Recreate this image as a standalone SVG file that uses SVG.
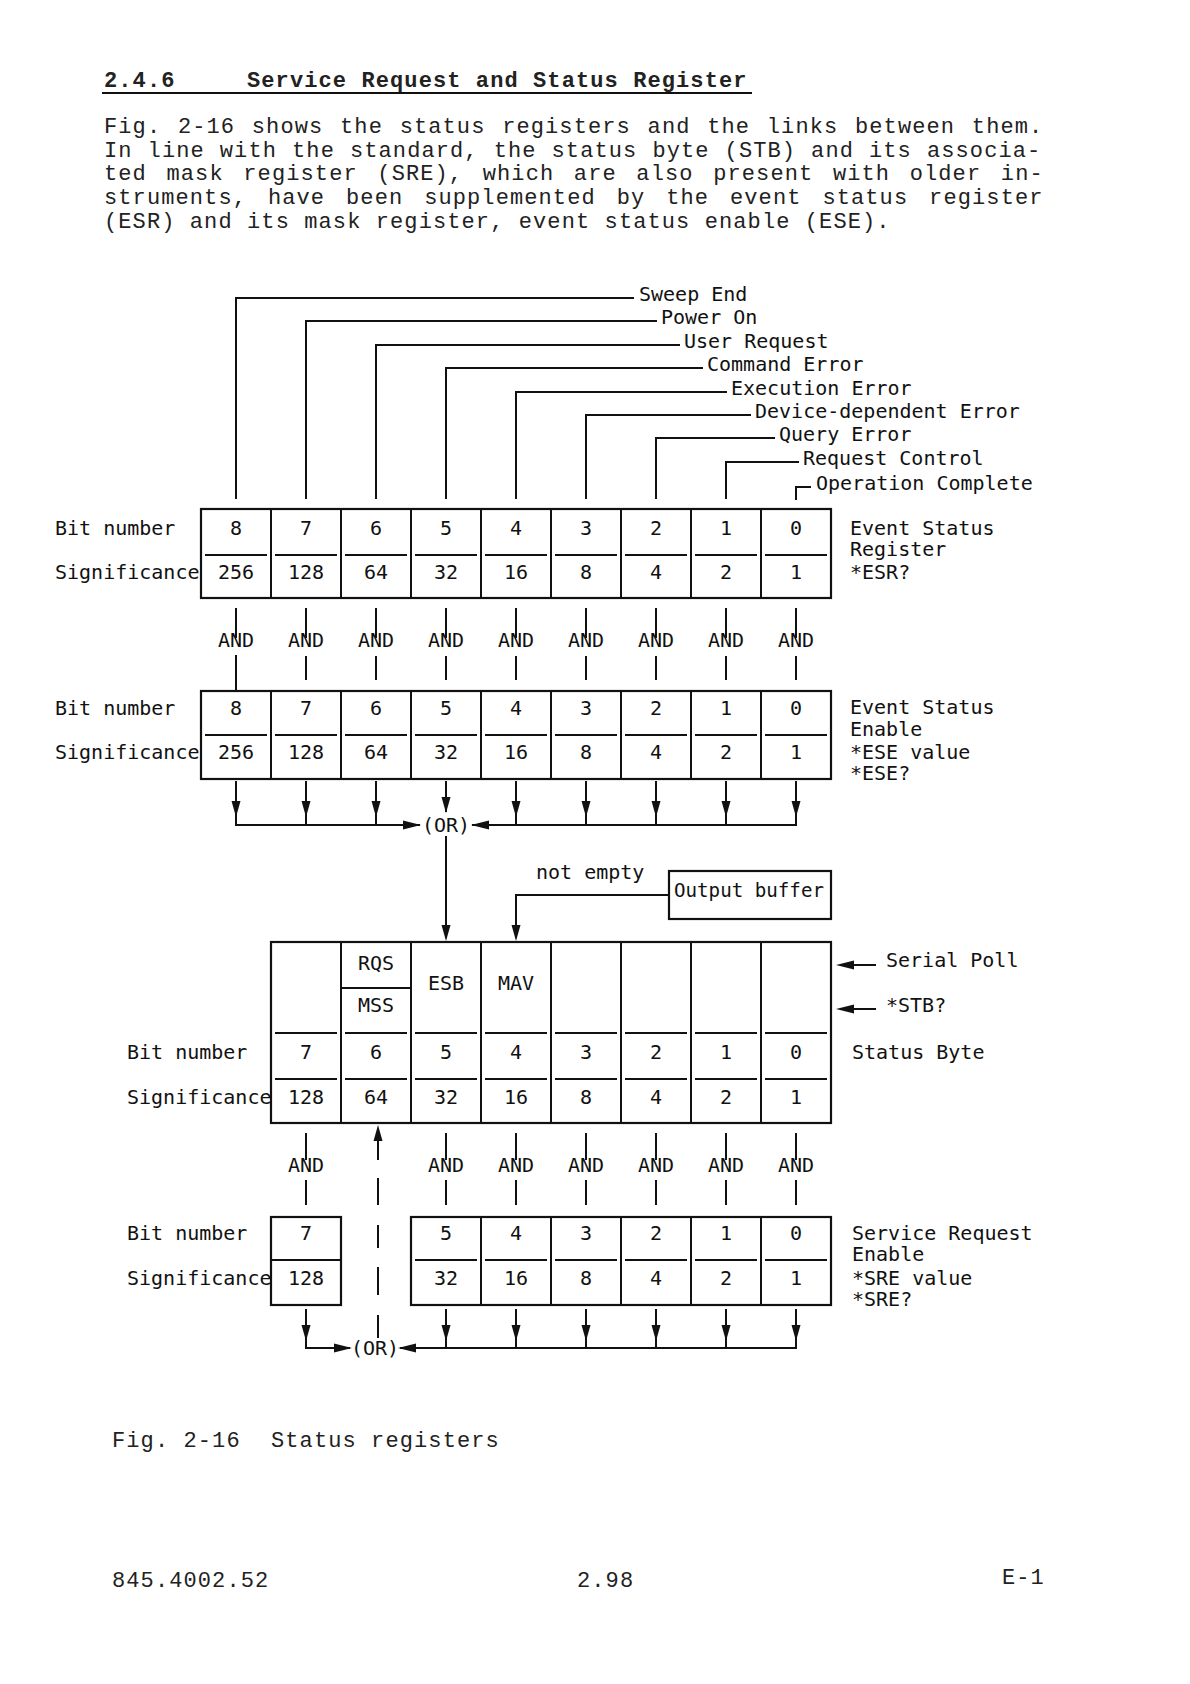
<svg xmlns="http://www.w3.org/2000/svg" xmlns:xlink="http://www.w3.org/1999/xlink" width="1190" height="1684" viewBox="0 0 1190 1684">
<style>
.ln{stroke:#111;stroke-width:2;fill:none}
.bx{stroke:#111;stroke-width:2.2;fill:none}
.ah{fill:#111;stroke:none}
.t{font-family:"DejaVu Sans Mono","Liberation Mono",monospace;font-size:20px;fill:#111}
.c{text-anchor:middle}
.p{font-family:"Liberation Mono",monospace;font-size:22px;letter-spacing:1.1px;fill:#222}
.h{font-family:"Liberation Mono",monospace;font-size:22px;letter-spacing:1.1px;font-weight:bold;fill:#222}
</style>
<defs>
<path id="ahD" class="ah" d="M0,0 L-4.5,-16 L4.5,-16 Z"/>
<path id="ahU" class="ah" d="M0,0 L-4.5,16 L4.5,16 Z"/>
<path id="ahR" class="ah" d="M0,0 L-18,-4.5 L-18,4.5 Z"/>
<path id="ahL" class="ah" d="M0,0 L18,-4.5 L18,4.5 Z"/>
</defs>
<rect x="0" y="0" width="1190" height="1684" fill="#fff"/>

<g id="heading">
<text class="h" x="104" y="87">2.4.6</text>
<text class="h" x="247" y="87">Service Request and Status Register</text>
<line class="ln" x1="102" y1="93" x2="752" y2="93" stroke-width="2.5"/>
<text class="p" x="104" y="133" word-spacing="2.4">Fig. 2-16 shows the status registers and the links between them.</text>
<text class="p" x="104" y="157" word-spacing="0.7">In line with the standard, the status byte (STB) and its associa-</text>
<text class="p" x="104" y="180" word-spacing="5.3">ted mask register (SRE), which are also present with older in-</text>
<text class="p" x="104" y="204" word-spacing="6.6">struments, have been supplemented by the event status register</text>
<text class="p" x="104" y="228">(ESR) and its mask register, event status enable (ESE).</text>
</g>

<g id="connectors">
<!-- event sources into ESR -->
<path class="ln" d="M236,499V298H634M306,499V321H657M376,499V345H680M446,499V368H703M516,499V392H727M586,499V415H751M656,499V438H775M726,499V462H799M796,500V487H811"/>
<!-- ESR AND ESE -->
<path class="ln" d="M236,608V638M306,608V638M376,608V638M446,608V638M516,608V638M586,608V638M656,608V638M726,608V638M796,608V638"/>
<path class="ln" d="M236,655V691M306,656V680M376,656V680M446,656V680M516,656V680M586,656V680M656,656V680M726,656V680M796,656V680"/>
<!-- ESE to OR -->
<path class="ln" d="M236,781V825H420M796,781V825H472M306,781V825M376,781V825M516,781V825M586,781V825M656,781V825M726,781V825M446,781V812"/>
<use xlink:href="#ahD" x="236" y="817"/>
<use xlink:href="#ahD" x="306" y="817"/>
<use xlink:href="#ahD" x="376" y="817"/>
<use xlink:href="#ahD" x="446" y="813"/>
<use xlink:href="#ahD" x="516" y="817"/>
<use xlink:href="#ahD" x="586" y="817"/>
<use xlink:href="#ahD" x="656" y="817"/>
<use xlink:href="#ahD" x="726" y="817"/>
<use xlink:href="#ahD" x="796" y="817"/>
<use xlink:href="#ahR" x="421" y="825"/>
<use xlink:href="#ahL" x="471" y="825"/>
<!-- OR to ESB -->
<path class="ln" d="M446,836V938"/>
<use xlink:href="#ahD" x="446" y="941"/>
<!-- output buffer to MAV -->
<path class="ln" d="M669,895H516V938"/>
<use xlink:href="#ahD" x="516" y="941"/>
<!-- serial poll / STB? -->
<path class="ln" d="M876,965H850M876,1009H850"/>
<use xlink:href="#ahL" x="836" y="965"/>
<use xlink:href="#ahL" x="836" y="1009"/>
<!-- STB AND SRE -->
<path class="ln" d="M306,1133V1160M446,1133V1160M516,1133V1160M586,1133V1160M656,1133V1160M726,1133V1160M796,1133V1160"/>
<path class="ln" d="M306,1180V1205M446,1180V1205M516,1180V1205M586,1180V1205M656,1180V1205M726,1180V1205M796,1180V1205"/>
<!-- MSS feedback -->
<path class="ln" d="M378,1140V1160M378,1178V1205M378,1225V1248M378,1267V1295M378,1315V1338"/>
<use xlink:href="#ahU" x="378" y="1125"/>
<!-- SRE to OR -->
<path class="ln" d="M306,1309V1348H350M796,1309V1348H400M446,1309V1348M516,1309V1348M586,1309V1348M656,1309V1348M726,1309V1348"/>
<use xlink:href="#ahD" x="306" y="1341"/>
<use xlink:href="#ahD" x="446" y="1341"/>
<use xlink:href="#ahD" x="516" y="1341"/>
<use xlink:href="#ahD" x="586" y="1341"/>
<use xlink:href="#ahD" x="656" y="1341"/>
<use xlink:href="#ahD" x="726" y="1341"/>
<use xlink:href="#ahD" x="796" y="1341"/>
<use xlink:href="#ahR" x="352" y="1348"/>
<use xlink:href="#ahL" x="398" y="1348"/>
</g>

<g id="event-sources">
<text class="t" x="639" y="301">Sweep End</text>
<text class="t" x="661" y="324">Power On</text>
<text class="t" x="684" y="348">User Request</text>
<text class="t" x="707" y="371">Command Error</text>
<text class="t" x="731" y="395">Execution Error</text>
<text class="t" x="755" y="418">Device-dependent Error</text>
<text class="t" x="779" y="441">Query Error</text>
<text class="t" x="803" y="465">Request Control</text>
<text class="t" x="816" y="490">Operation Complete</text>
</g>

<g id="esr">
<rect class="bx" x="201" y="509" width="630" height="89"/>
<path class="ln" d="M271,509V598M341,509V598M411,509V598M481,509V598M551,509V598M621,509V598M691,509V598M761,509V598"/>
<path class="ln" d="M205,555H267M275,555H337M345,555H407M415,555H477M485,555H547M555,555H617M625,555H687M695,555H757M765,555H827"/>
<text class="t" x="55" y="535">Bit number</text>
<text class="t" x="55" y="579">Significance</text>
<g class="t c">
<text x="236" y="535">8</text><text x="306" y="535">7</text><text x="376" y="535">6</text><text x="446" y="535">5</text><text x="516" y="535">4</text><text x="586" y="535">3</text><text x="656" y="535">2</text><text x="726" y="535">1</text><text x="796" y="535">0</text>
<text x="236" y="579">256</text><text x="306" y="579">128</text><text x="376" y="579">64</text><text x="446" y="579">32</text><text x="516" y="579">16</text><text x="586" y="579">8</text><text x="656" y="579">4</text><text x="726" y="579">2</text><text x="796" y="579">1</text>
</g>
<text class="t" x="850" y="535">Event Status</text>
<text class="t" x="850" y="556">Register</text>
<text class="t" x="850" y="579">*ESR?</text>
</g>

<g id="and-esr-ese" class="t c">
<text x="236" y="647">AND</text><text x="306" y="647">AND</text><text x="376" y="647">AND</text><text x="446" y="647">AND</text><text x="516" y="647">AND</text><text x="586" y="647">AND</text><text x="656" y="647">AND</text><text x="726" y="647">AND</text><text x="796" y="647">AND</text>
</g>

<g id="ese">
<rect class="bx" x="201" y="691" width="630" height="88"/>
<path class="ln" d="M271,691V779M341,691V779M411,691V779M481,691V779M551,691V779M621,691V779M691,691V779M761,691V779"/>
<path class="ln" d="M205,735H267M275,735H337M345,735H407M415,735H477M485,735H547M555,735H617M625,735H687M695,735H757M765,735H827"/>
<text class="t" x="55" y="715">Bit number</text>
<text class="t" x="55" y="759">Significance</text>
<g class="t c">
<text x="236" y="715">8</text><text x="306" y="715">7</text><text x="376" y="715">6</text><text x="446" y="715">5</text><text x="516" y="715">4</text><text x="586" y="715">3</text><text x="656" y="715">2</text><text x="726" y="715">1</text><text x="796" y="715">0</text>
<text x="236" y="759">256</text><text x="306" y="759">128</text><text x="376" y="759">64</text><text x="446" y="759">32</text><text x="516" y="759">16</text><text x="586" y="759">8</text><text x="656" y="759">4</text><text x="726" y="759">2</text><text x="796" y="759">1</text>
</g>
<text class="t" x="850" y="714">Event Status</text>
<text class="t" x="850" y="736">Enable</text>
<text class="t" x="850" y="759">*ESE value</text>
<text class="t" x="850" y="780">*ESE?</text>
</g>

<g id="or-ese">
<text class="t c" x="446" y="832">(OR)</text>
</g>

<g id="output-buffer">
<rect class="bx" x="669" y="871" width="162" height="48"/>
<text class="t" x="674" y="897" textLength="150" lengthAdjust="spacingAndGlyphs">Output buffer</text>
<text class="t" x="536" y="879">not empty</text>
</g>

<g id="stb">
<rect class="bx" x="271" y="942" width="560" height="181"/>
<path class="ln" d="M341,942V1123M411,942V1123M481,942V1123M551,942V1123M621,942V1123M691,942V1123M761,942V1123"/>
<path class="ln" d="M341,988H411"/>
<path class="ln" d="M275,1033H337M345,1033H407M415,1033H477M485,1033H547M555,1033H617M625,1033H687M695,1033H757M765,1033H827"/>
<path class="ln" d="M275,1079H337M345,1079H407M415,1079H477M485,1079H547M555,1079H617M625,1079H687M695,1079H757M765,1079H827"/>
<g class="t c">
<text x="376" y="970">RQS</text><text x="376" y="1012">MSS</text><text x="446" y="990">ESB</text><text x="516" y="990">MAV</text>
<text x="306" y="1059">7</text><text x="376" y="1059">6</text><text x="446" y="1059">5</text><text x="516" y="1059">4</text><text x="586" y="1059">3</text><text x="656" y="1059">2</text><text x="726" y="1059">1</text><text x="796" y="1059">0</text>
<text x="306" y="1104">128</text><text x="376" y="1104">64</text><text x="446" y="1104">32</text><text x="516" y="1104">16</text><text x="586" y="1104">8</text><text x="656" y="1104">4</text><text x="726" y="1104">2</text><text x="796" y="1104">1</text>
</g>
<text class="t" x="127" y="1059">Bit number</text>
<text class="t" x="127" y="1104">Significance</text>
<text class="t" x="852" y="1059">Status Byte</text>
<text class="t" x="886" y="967">Serial Poll</text>
<text class="t" x="886" y="1012">*STB?</text>
</g>

<g id="and-stb-sre" class="t c">
<text x="306" y="1172">AND</text><text x="446" y="1172">AND</text><text x="516" y="1172">AND</text><text x="586" y="1172">AND</text><text x="656" y="1172">AND</text><text x="726" y="1172">AND</text><text x="796" y="1172">AND</text>
</g>

<g id="sre">
<rect class="bx" x="271" y="1217" width="70" height="88"/>
<path class="ln" d="M271,1260H341"/>
<rect class="bx" x="411" y="1217" width="420" height="88"/>
<path class="ln" d="M481,1217V1305M551,1217V1305M621,1217V1305M691,1217V1305M761,1217V1305"/>
<path class="ln" d="M415,1260H477M485,1260H547M555,1260H617M625,1260H687M695,1260H757M765,1260H827"/>
<g class="t c">
<text x="306" y="1240">7</text><text x="446" y="1240">5</text><text x="516" y="1240">4</text><text x="586" y="1240">3</text><text x="656" y="1240">2</text><text x="726" y="1240">1</text><text x="796" y="1240">0</text>
<text x="306" y="1285">128</text><text x="446" y="1285">32</text><text x="516" y="1285">16</text><text x="586" y="1285">8</text><text x="656" y="1285">4</text><text x="726" y="1285">2</text><text x="796" y="1285">1</text>
</g>
<text class="t" x="127" y="1240">Bit number</text>
<text class="t" x="127" y="1285">Significance</text>
<text class="t" x="852" y="1240">Service Request</text>
<text class="t" x="852" y="1261">Enable</text>
<text class="t" x="852" y="1285">*SRE value</text>
<text class="t" x="852" y="1306">*SRE?</text>
</g>

<g id="or-sre">
<text class="t c" x="375" y="1355">(OR)</text>
</g>

<g id="caption">
<text class="p" x="112" y="1447">Fig. 2-16</text>
<text class="p" x="271" y="1447">Status registers</text>
<text class="p" x="112" y="1587">845.4002.52</text>
<text class="p" x="577" y="1587">2.98</text>
<text class="p" x="1002" y="1584">E-1</text>
</g>
</svg>
